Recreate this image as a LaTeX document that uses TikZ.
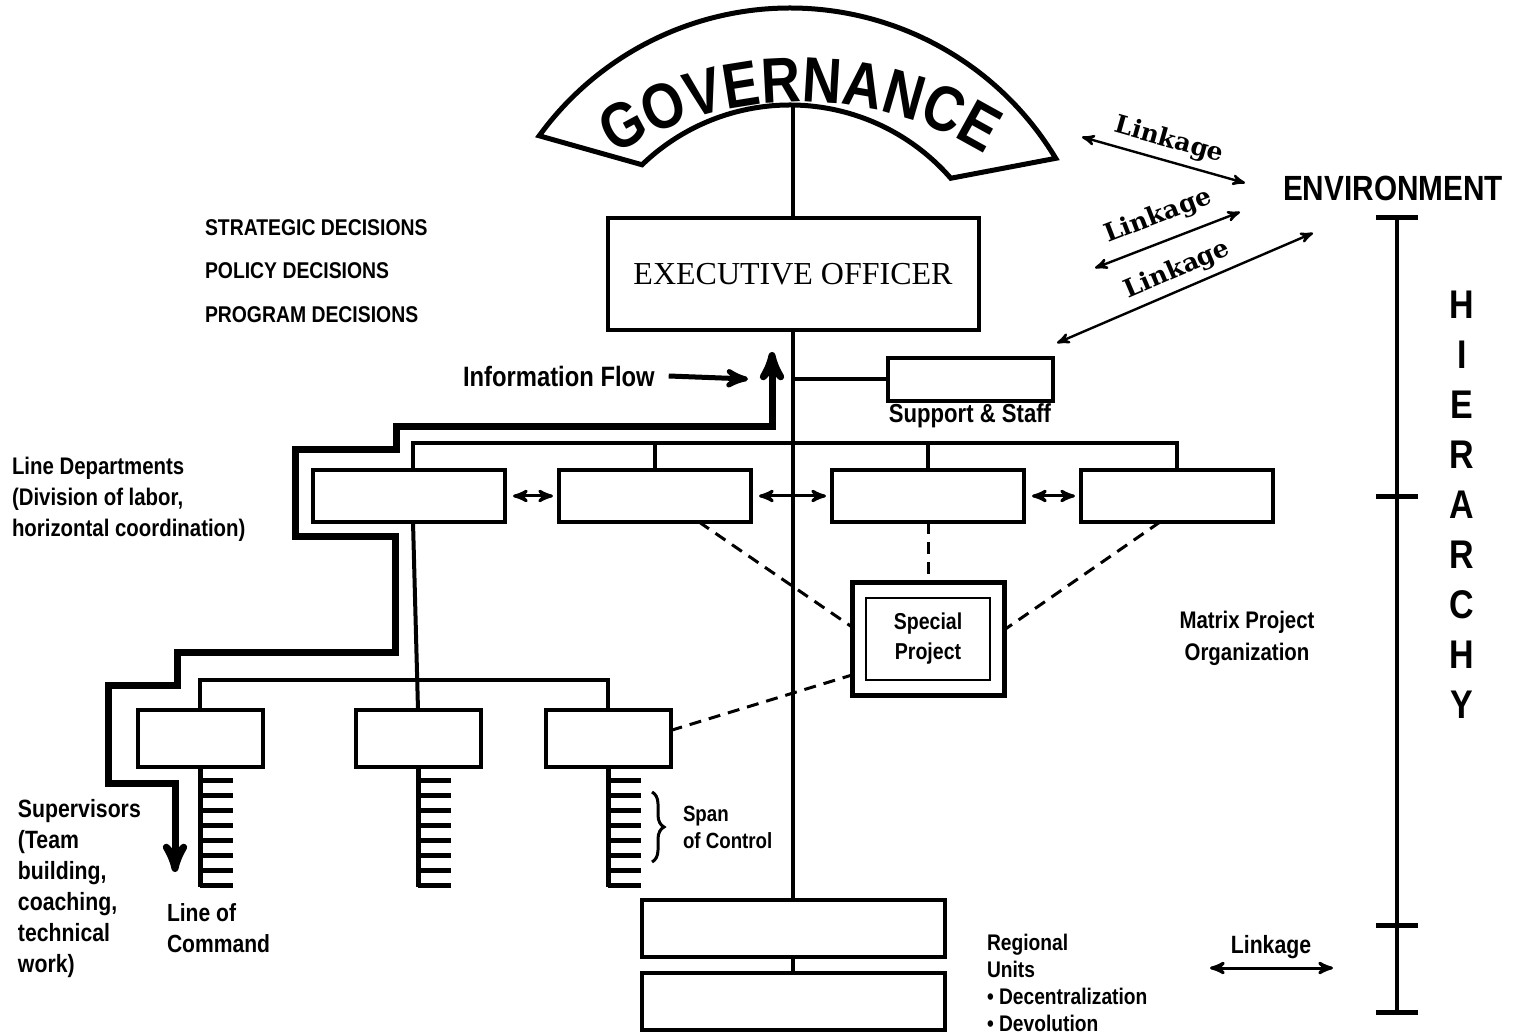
\documentclass[tikz,border=0pt]{standalone}
\usepackage{fontspec}
\setmainfont{Liberation Serif}
\newfontfamily\narrowsf{Liberation Sans}[FakeStretch=0.85]
\newfontfamily\slabsf{DejaVu Serif}
\usetikzlibrary{positioning,calc,arrows,decorations.text,decorations.pathreplacing}
\newcommand{\lbl}[2]{\narrowsf\bfseries\fontsize{#1}{#2}\selectfont}
\newcommand{\govfont}{\narrowsf\bfseries\fontsize{32}{32}\selectfont}

\begin{document}
\begin{tikzpicture}[x=0.5pt,y=-0.5pt,>=stealth']
    \tikzstyle{every node}=[inner sep=0,outer sep=0]
    \tikzstyle{box}=[draw,line width=2pt,fill=white]
    \tikzstyle{deptbox}=[box,minimum width=96pt,minimum height=26pt]
    \tikzstyle{supbox}=[box,minimum width=62.5pt,minimum height=28.5pt]
    \tikzstyle{regbox}=[box,minimum width=151.5pt,minimum height=28.5pt]
    \tikzstyle{wire}=[line width=2pt]
    \tikzstyle{flow}=[line width=3.5pt,line join=miter]
    \tikzstyle{link}=[<->,line width=1.2pt]
    \tikzstyle{matrixline}=[line width=1.5pt,dash pattern=on 6pt off 4pt]
    \tikzstyle{rung}=[line width=2.5pt]
    \tikzstyle{note}=[align=left]

    \useasboundingbox (0,0) rectangle (1519,1036);

    % governance band
    \coordinate (gc) at (790,318);
    \coordinate (gtext) at (800,452);
    \coordinate (govbase) at (793,105);
    \draw[line width=2.5pt,fill=white] ($(gc)+(-31:310)$) arc[start angle=-31,end angle=-144,radius=310]
        -- ($(gc)+(-134:213)$) arc[start angle=-134,end angle=-41,radius=213] -- cycle;
    \path[decorate,decoration={text along path,text align=center,text={|\govfont|GOVERNANCE}}]
        ($(gtext)+(-135:350)$) arc[start angle=-135,end angle=-45,radius=350];

    % executive and staff
    \node[box,minimum width=185.5pt,minimum height=56pt,font=\fontsize{16}{16}\selectfont] (exec) at (793,274) {EXECUTIVE OFFICER};
    \draw[wire] (govbase) -- (exec.north);
    \node[box,minimum width=82.5pt,minimum height=21.5pt] (staff) at (970.5,379.5) {};
    \node[font=\lbl{13}{15}] (stafflbl) at (970,416) {Support \& Staff};
    \draw[wire] (exec.south |- staff.west) -- (staff.west);

    % decisions
    \foreach \t/\y [count=\i] in {STRATEGIC DECISIONS/228,POLICY DECISIONS/271,PROGRAM DECISIONS/315}
        \node[anchor=west,font=\lbl{11.4}{12}] (dec\i) at (205,\y) {\t};

    % line departments
    \foreach \x [count=\i] in {409,655,928,1177}
        \node[deptbox] (dept\i) at (\x,496) {};
    \coordinate (deptbus) at (793,443);
    \draw[wire] ([xshift=2pt]dept1.north) |- (deptbus) -| (dept4.north);
    \foreach \i in {2,3}
        \draw[wire] (dept\i.north) -- (dept\i.north |- deptbus);

    % regional units
    \node[regbox] (reg1) at (793,928.5) {};
    \node[regbox] (reg2) at (793,1001.5) {};
    \draw[wire] (exec.south) -- (reg1.north);
    \draw[wire] (reg1.south) -- (reg2.north);

    \foreach \i/\j in {1/2,2/3,3/4}
        \draw[<->,line width=1.5pt,shorten <=4pt,shorten >=3pt] (dept\i.east) -- (dept\j.west);

    % supervisors
    \foreach \x [count=\i] in {200,418,608}
        \node[supbox] (sup\i) at (\x,738.5) {};
    \coordinate (supbus) at (418,680);
    \draw[wire] (sup1.north) |- (supbus) -| (sup3.north);
    \draw[wire] ([xshift=2pt]dept1.south) -- (sup2.north);
    \foreach \i in {1,2,3} {
        \draw[wire,line width=2.5pt] (sup\i.south) -- ++(0,120);
        \foreach \k in {0,...,7}
            \draw[rung] (sup\i.south) ++(0,{13+15*\k}) -- ++(33,0);
    }

    % span of control
    \coordinate (spantop) at (652,792);
    \coordinate (spanbot) at (652,862);
    \draw[line width=1.5pt,decorate,decoration={brace,amplitude=6pt}] (spantop) -- (spanbot);
    \node[note,anchor=north west,font=\lbl{11}{13.5}] (span) at (683,806) {Span\\of Control};

    % matrix project
    \node[box,line width=2.5pt,minimum width=76pt,minimum height=56pt] (special) at (928,639) {};
    \node[draw,line width=0.8pt,minimum width=62pt,minimum height=41pt,align=center,font=\lbl{11.5}{15}] (specialin) at (special) {Special\\Project};
    \draw[matrixline] ([xshift=22pt]dept2.south) -- ([yshift=6pt]special.west);
    \draw[matrixline] (dept3.south) -- (special.north);
    \draw[matrixline] ([xshift=-8.5pt]dept4.south) -- ([yshift=4.5pt]special.east);
    \draw[matrixline] ([yshift=4pt]sup3.east) -- ([yshift=-18pt]special.west);
    \node[align=center,font=\lbl{12}{16}] (matrixlbl) at (1247,638) {Matrix Project\\Organization};

    % information flow
    \node[anchor=west,font=\lbl{14}{14}] (infolbl) at (463,376) {Information Flow};
    \coordinate (infotip) at (748,379);
    \draw[->,line width=2.5pt] ([xshift=7pt]infolbl.east) -- (infotip);
    \coordinate (flowtop) at (772,352);
    \coordinate (flowend) at (175,872);
    \draw[flow,<->] (flowend) -- (175,783) -- (108,783) -- (108,685) -- (177,685) -- (177,652)
        -- (395,652) -- (395,537) -- (295,537) -- (295,450) -- (396,450) -- (396,427)
        -- (772,427) -- (flowtop);

    % left notes
    \node[note,anchor=north west,font=\lbl{12}{15.5}] (linedept) at (12,457) {Line Departments\\(Division of labor,\\horizontal coordination)};
    \node[note,anchor=north west,font=\lbl{12.5}{15.5}] (supvlbl) at (18,799) {Supervisors\\(Team\\building,\\coaching,\\technical\\work)};
    \node[note,anchor=north west,font=\lbl{12.4}{15.5}] (cmdlbl) at (167,904) {Line of\\Command};
    \node[note,anchor=north west,font=\lbl{11.3}{13.5}] (reglbl) at (987,934) {Regional\\Units\\\textbullet~Decentralization\\\textbullet~Devolution};

    % environment linkages
    \node[font=\lbl{17.5}{17.5}] (env) at (1393,188) {ENVIRONMENT};
    \coordinate (lka1) at (1082,137); \coordinate (lkb1) at (1245,183);
    \coordinate (lka2) at (1095,268); \coordinate (lkb2) at (1240,212);
    \coordinate (lka3) at (1057,343); \coordinate (lkb3) at (1313,233);
    \foreach \i/\d in {1/4pt,2/6.5pt,3/3.5pt}
        \draw[link] (lka\i) -- node[sloped,above=\d,font=\slabsf\bfseries\fontsize{12.5}{12.5}\selectfont] (lklbl\i) {Linkage} (lkb\i);
    \coordinate (rlinka) at (1210,968);
    \coordinate (rlinkb) at (1333,968);
    \draw[link,line width=1.5pt] (rlinka) -- (rlinkb);
    \node[font=\lbl{12.5}{14}] (rlinklbl) at (1271,947) {Linkage};

    % hierarchy scale
    \coordinate (hiertop) at (1397,218);
    \coordinate (hierbot) at (1397,1012);
    \draw[wire] (hiertop) -- (hierbot);
    \foreach \y in {218,497,925,1012}
        \draw[line width=2.5pt] (1376,\y) -- (1418,\y);
    \foreach \l [count=\i] in {H,I,E,R,A,R,C,H,Y}
        \node[font=\lbl{20}{20}] (hier\i) at (1462,{255+50*\i}) {\l};
\end{tikzpicture}
\end{document}
